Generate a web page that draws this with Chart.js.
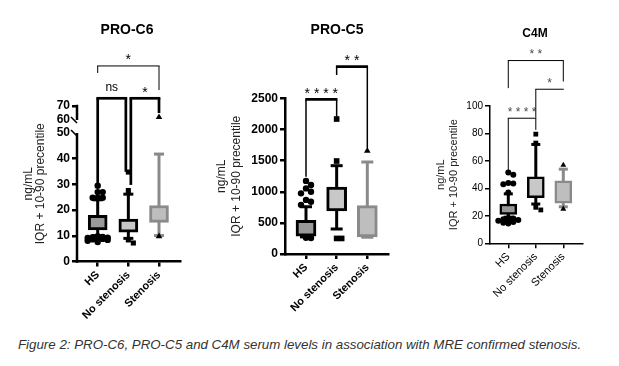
<!DOCTYPE html>
<html>
<head>
<meta charset="utf-8">
<script src="https://cdn.jsdelivr.net/npm/chart.js@4.4.1/dist/chart.umd.min.js"></script>
<style>
  html, body { margin: 0; padding: 0; background: #fff; }
  body { width: 619px; height: 366px; position: relative; overflow: hidden; font-family: 'Liberation Sans', Arial, sans-serif; }
  .panel { position: absolute; top: 0; height: 330px; }
  .title { position: absolute; font-weight: bold; line-height: 1; transform: translateX(-50%); white-space: nowrap; color: #000; }
  #caption { position: absolute; left: 18px; top: 338px; font-size: 13.3px; font-style: italic; line-height: 1; color: #333; white-space: nowrap; }
</style>
</head>
<body>
<div class="panel" style="left:0;width:200px"><canvas id="c6"></canvas></div>
<div class="panel" style="left:200px;width:210px"><canvas id="c5"></canvas></div>
<div class="panel" style="left:410px;width:209px"><canvas id="c4"></canvas></div>
<div class="title" style="left:127px;top:22px;font-size:14px">PRO-C6</div>
<div class="title" style="left:337px;top:22px;font-size:14px">PRO-C5</div>
<div class="title" style="left:535px;top:27px;font-size:12px">C4M</div>
<div id="caption">Figure 2: PRO-C6, PRO-C5 and C4M serum levels in association with MRE confirmed stenosis.</div>
<script>
// === Data (ng/mL), boxes = IQR, whiskers = 10th-90th percentile ===
const groups = ['HS', 'No stenosis', 'Stenosis'];

// PRO-C6
const c6P10 = [10, 9, 10.1];
const c6Q1 = [12.3, 11.4, 15.2];
const c6Median = [14.5, 13.5, 16.8];
const c6Q3 = [18, 16.5, 21.8];
const c6P90 = [24, 26.2, 41.8];
const c6Outliers = [
    [29.5, 27, 27, 24.8, 24.8, 24.8, 9.8, 9.6, 9.5, 9.3, 9.2, 9, 8.8, 8.6, 8.4, 8.1, 7.6],
    [34.8, 27.6, 8.4, 7.2],
    [62, 9.8]
];
const c6Ticks = [0, 10, 20, 30, 40, 50, 60, 70];
const c6Tests = [
    { from: 0, to: 1, label: 'ns', level: 75.5, legs: [29.8, 34.9] },
    { from: 1, to: 2, label: '*', level: 75.5, legs: [29.8, 65] },
    { from: 0, to: 2, label: '*', level: 98.6, legs: [93.6, 81.4] }
];

// PRO-C5
const c5P10 = [275, 402, 270];
const c5Q1 = [285, 691, 273];
const c5Median = [450, 879, 397];
const c5Q3 = [540, 1077, 777];
const c5P90 = [760, 1420, 1479];
const c5Outliers = [
    [1175, 1110, 1055, 1000, 975, 870, 840, 790, 262, 258],
    [2170, 1495, 250, 250],
    [1660]
];
const c5Ticks = [0, 500, 1000, 1500, 2000, 2500];
const c5Tests = [
    { from: 0, to: 1, label: '* * * *', level: 2487, legs: [1243, 2207] },
    { from: 1, to: 2, label: '* *', level: 3011, legs: [2878, 1704] }
];

// C4M
const c4P10 = [19, 28.6, 26.6];
const c4Q1 = [21.1, 33.3, 29.2];
const c4Median = [24.2, 39.3, 30];
const c4Q3 = [28.6, 48.5, 45.5];
const c4P90 = [36, 72, 54];
const c4Outliers = [
    [51.5, 50, 44, 43.5, 43, 37, 18.5, 18, 17.5, 17, 16.5, 16, 15.5, 15, 14.5],
    [79.5, 73, 26.2, 24.3],
    [57, 25]
];
const c4Ticks = [0, 20, 40, 60, 80, 100];
const c4Tests = [
    { from: 0, to: 1, label: '* * * *', level: 91.1, legs: [52.2, 82.6] },
    { from: 1, to: 2, label: '*', level: 112.2, legs: [91.5, 112.2] },
    { from: 0, to: 2, label: '* *', level: 133.1, legs: [113, 117.8] }
];

// === Styling ===
const FONT = "'Liberation Sans', Arial, sans-serif";
const boxFill = ['#999999', '#c8c8c8', '#bebebe'];
const boxLine = ['#000000', '#000000', '#8a8a8a'];
const markerStyle = ['circle', 'rect', 'triangle'];
const CANVAS_H = 330;

// PRO-C6 axis is broken between 50 and 60
function c6Axis(v) {
    if (v <= 50) return v;
    if (v >= 60) return 55.06 + (v - 60) * 0.545;
    return 50 + (v - 50) * 0.506;
}
const plain = v => v;

const panels = [
    {
        id: 'c6', p10: c6P10, q1: c6Q1, median: c6Median, q3: c6Q3, p90: c6P90, outliers: c6Outliers,
        ticks: c6Ticks, tests: c6Tests, tf: c6Axis, yMax: c6Axis(70), broken: true,
        canvasLeft: 0, canvasWidth: 200, area: { left: 77, right: 180, top: 106, bottom: 261.5 },
        xMin: -0.675, xMax: 2.685,
        boxWidth: 19, boxBorder: 3, whisker: 3, cap: 10, median: 2.5, axisWidth: 2.5,
        tickFont: { size: 12, weight: 'bold' }, catFont: { size: 11, weight: 'bold' },
        titleFont: { size: 12, lineHeight: 1.0 }, titlePad: 22.5,
        markers: [3.2, 3.6, 3.8], testWidths: [[2.7, 2.7], [2.7, 2.7], [1, 1]],
        starSize: 14, starColor: '#000'
    },
    {
        id: 'c5', p10: c5P10, q1: c5Q1, median: c5Median, q3: c5Q3, p90: c5P90, outliers: c5Outliers,
        ticks: c5Ticks, tests: c5Tests, tf: plain, yMax: 2500, broken: false,
        canvasLeft: 200, canvasWidth: 210, area: { left: 285, right: 388, top: 98.5, bottom: 254 },
        xMin: -0.685, xMax: 2.675,
        boxWidth: 20, boxBorder: 3, whisker: 3, cap: 12, median: 2.5, axisWidth: 2.5,
        tickFont: { size: 12, weight: 'bold' }, catFont: { size: 11, weight: 'bold' },
        titleFont: { size: 12, lineHeight: 1.25 }, titlePad: 14.2,
        markers: [3.2, 4, 3.8], testWidths: [[2.7, 1.5], [2.7, 1.5]],
        starSize: 14, starColor: '#000'
    },
    {
        id: 'c4', p10: c4P10, q1: c4Q1, median: c4Median, q3: c4Q3, p90: c4P90, outliers: c4Outliers,
        ticks: c4Ticks, tests: c4Tests, tf: plain, yMax: 100, broken: false,
        canvasLeft: 410, canvasWidth: 209, area: { left: 490, right: 582.7, top: 106, bottom: 243.3 },
        xMin: -0.665, xMax: 2.705,
        boxWidth: 17, boxBorder: 2.5, whisker: 3, cap: 9, median: 2, axisWidth: 1.5,
        tickFont: { size: 10 }, catFont: { size: 11 },
        titleFont: { size: 11, lineHeight: 1.18 }, titlePad: 24.5,
        markers: [3, 3.4, 3.4], testWidths: [[1, 1], [1, 1], [1, 1]],
        starSize: 12, starColor: '#4a4a4a'
    }
];

// Spread outliers that sit on top of each other sideways (like GraphPad);
// past two slots either side they simply overlap
function spreadX(values, pxPerUnit, pxPerCat, size) {
    const taken = [];
    const order = [0, 1, -1, 2, -2];
    return values.map(v => {
        const clash = s => taken.filter(t => t.s === s && Math.abs(t.v - v) * pxPerUnit < size).length;
        let slot = order[0];
        order.forEach(s => { if (clash(s) < clash(slot)) slot = s; });
        taken.push({ v, s: slot });
        return slot * size / pxPerCat;
    });
}

function boxPlugin(p) {
    const line = (ctx, x1, y1, x2, y2) => { ctx.beginPath(); ctx.moveTo(x1, y1); ctx.lineTo(x2, y2); ctx.stroke(); };
    return {
        id: 'boxes_' + p.id,
        beforeDatasetsDraw(chart) {
            const { ctx, scales: { x, y } } = chart;
            ctx.save();
            ctx.lineWidth = p.whisker;
            groups.forEach((g, i) => {
                const cx = x.getPixelForValue(i);
                const lo = y.getPixelForValue(p.tf(p.p10[i]));
                const hi = y.getPixelForValue(p.tf(p.p90[i]));
                ctx.strokeStyle = boxLine[i];
                line(ctx, cx, lo, cx, hi);
                line(ctx, cx - p.cap / 2, hi, cx + p.cap / 2, hi);
                line(ctx, cx - p.cap / 2, lo, cx + p.cap / 2, lo);
            });
            ctx.restore();
        },
        afterDatasetDraw(chart, args) {
            if (args.index !== 0) return;
            const { ctx, scales: { y } } = chart;
            const bars = chart.getDatasetMeta(0).data;
            ctx.save();
            ctx.lineWidth = p.median;
            bars.forEach((bar, i) => {
                const my = y.getPixelForValue(p.tf(p.median[i]));
                ctx.strokeStyle = boxLine[i];
                line(ctx, bar.x - bar.width / 2, my, bar.x + bar.width / 2, my);
            });
            ctx.restore();
        },
        afterDraw(chart) {
            const { ctx, chartArea, scales: { x, y } } = chart;
            ctx.save();
            // broken y axis
            if (p.broken) {
                const ax = chartArea.left;
                ctx.strokeStyle = '#000';
                ctx.lineWidth = p.axisWidth;
                const y70 = y.getPixelForValue(p.tf(70)), y60 = y.getPixelForValue(p.tf(60)), y50 = y.getPixelForValue(p.tf(50));
                line(ctx, ax, y70 - p.axisWidth / 2, ax, y60);
                line(ctx, ax, y50, ax, chartArea.bottom + p.axisWidth / 2);
                ctx.lineWidth = 1.6;
                line(ctx, ax - 6, y60 - 3, ax, y60 + 3);
                line(ctx, ax - 6, y50 - 3, ax, y50 + 3);
            }
            // significance brackets
            p.tests.forEach((b, bi) => {
                const shared = cat => p.tests.some((o, oi) => oi !== bi && o.level === b.level && (o.from === cat || o.to === cat));
                const x1 = x.getPixelForValue(b.from) + (shared(b.from) ? 2.5 : 0);
                const x2 = x.getPixelForValue(b.to) - (shared(b.to) ? 2.5 : 0);
                const yl = y.getPixelForValue(p.tf(b.level));
                const [hw, lw] = p.testWidths[bi];
                ctx.strokeStyle = '#000';
                ctx.lineWidth = lw;
                line(ctx, x1, yl, x1, y.getPixelForValue(p.tf(b.legs[0])));
                line(ctx, x2, yl, x2, y.getPixelForValue(p.tf(b.legs[1])));
                ctx.lineWidth = hw;
                line(ctx, x1 - lw / 2, yl, x2 + lw / 2, yl);
                const isStar = b.label.indexOf('*') >= 0;
                ctx.fillStyle = isStar ? p.starColor : '#000';
                ctx.textAlign = 'center';
                ctx.textBaseline = 'alphabetic';
                if (isStar) {
                    ctx.font = p.starSize + 'px ' + FONT;
                    ctx.fillText(b.label, (x1 + x2) / 2, yl - 9.5 + p.starSize * 0.57);
                } else {
                    ctx.font = '12px ' + FONT;
                    ctx.fillText(b.label, (x1 + x2) / 2, yl - 7);
                }
            });
            ctx.restore();
        }
    };
}

function makeChart(p) {
    const a = p.area;
    const pxPerUnit = (a.bottom - a.top) / p.yMax;
    const pxPerCat = (a.right - a.left) / (p.xMax - p.xMin);
    const points = [];
    p.outliers.forEach((vals, g) => {
        const tv = vals.map(p.tf);
        const offs = spreadX(tv, pxPerUnit, pxPerCat, 5);
        tv.forEach((v, k) => points.push({ x: g + offs[k], y: v, g }));
    });
    const labelColor = '#000';

    return new Chart(document.getElementById(p.id), {
        type: 'bar',
        data: {
            datasets: [
                {
                    type: 'bar',
                    data: groups.map((_, i) => ({ x: i, y: [p.tf(p.q1[i]), p.tf(p.q3[i])] })),
                    backgroundColor: boxFill,
                    borderColor: boxLine,
                    borderWidth: p.boxBorder,
                    borderSkipped: false,
                    barThickness: p.boxWidth,
                    order: 2
                },
                {
                    type: 'scatter',
                    data: points,
                    pointStyle: c => c.raw ? markerStyle[c.raw.g] : 'circle',
                    pointRadius: c => c.raw ? p.markers[c.raw.g] : 3,
                    backgroundColor: '#000',
                    borderColor: '#000',
                    borderWidth: 0,
                    clip: false,
                    order: 1
                }
            ]
        },
        options: {
            responsive: true,
            maintainAspectRatio: false,
            animation: false,
            events: [],
            layout: {
                autoPadding: false,
                padding: { left: 0, top: a.top, right: p.canvasWidth - (a.right - p.canvasLeft), bottom: 0 }
            },
            plugins: { legend: { display: false }, tooltip: { enabled: false } },
            scales: {
                x: {
                    type: 'linear',
                    offset: false,
                    min: p.xMin,
                    max: p.xMax,
                    afterBuildTicks: s => { s.ticks = groups.map((_, i) => ({ value: i })); },
                    afterFit: s => { s.height = CANVAS_H - a.bottom; },
                    grid: { offset: false, drawOnChartArea: false, drawTicks: true, tickLength: 5, color: '#000', lineWidth: p.axisWidth },
                    border: { display: true, color: '#000', width: p.axisWidth },
                    ticks: {
                        autoSkip: false, minRotation: 45, maxRotation: 45, padding: 2, color: labelColor,
                        font: Object.assign({ family: FONT }, p.catFont),
                        callback: v => groups[v]
                    }
                },
                y: {
                    min: 0,
                    max: p.yMax,
                    afterBuildTicks: s => { s.ticks = p.ticks.map(v => ({ value: p.tf(v) })); },
                    afterFit: s => { s.width = a.left - p.canvasLeft; },
                    grid: {
                        drawOnChartArea: false, drawTicks: true, tickLength: 5, lineWidth: p.axisWidth,
                        color: c => (p.broken && (p.ticks[c.index] === 50 || p.ticks[c.index] === 60)) ? 'rgba(0,0,0,0)' : '#000'
                    },
                    border: { display: !p.broken, color: '#000', width: p.axisWidth },
                    ticks: {
                        padding: 2, color: labelColor,
                        font: Object.assign({ family: FONT }, p.tickFont),
                        callback: (v, i) => String(p.ticks[i])
                    },
                    title: {
                        display: true,
                        text: ['ng/mL', 'IQR + 10-90 precentile'],
                        color: '#222',
                        font: Object.assign({ family: FONT }, p.titleFont),
                        padding: { top: p.titlePad, bottom: 0 }
                    }
                }
            }
        },
        plugins: [boxPlugin(p)]
    });
}

panels.forEach(makeChart);
</script>
</body>
</html>
